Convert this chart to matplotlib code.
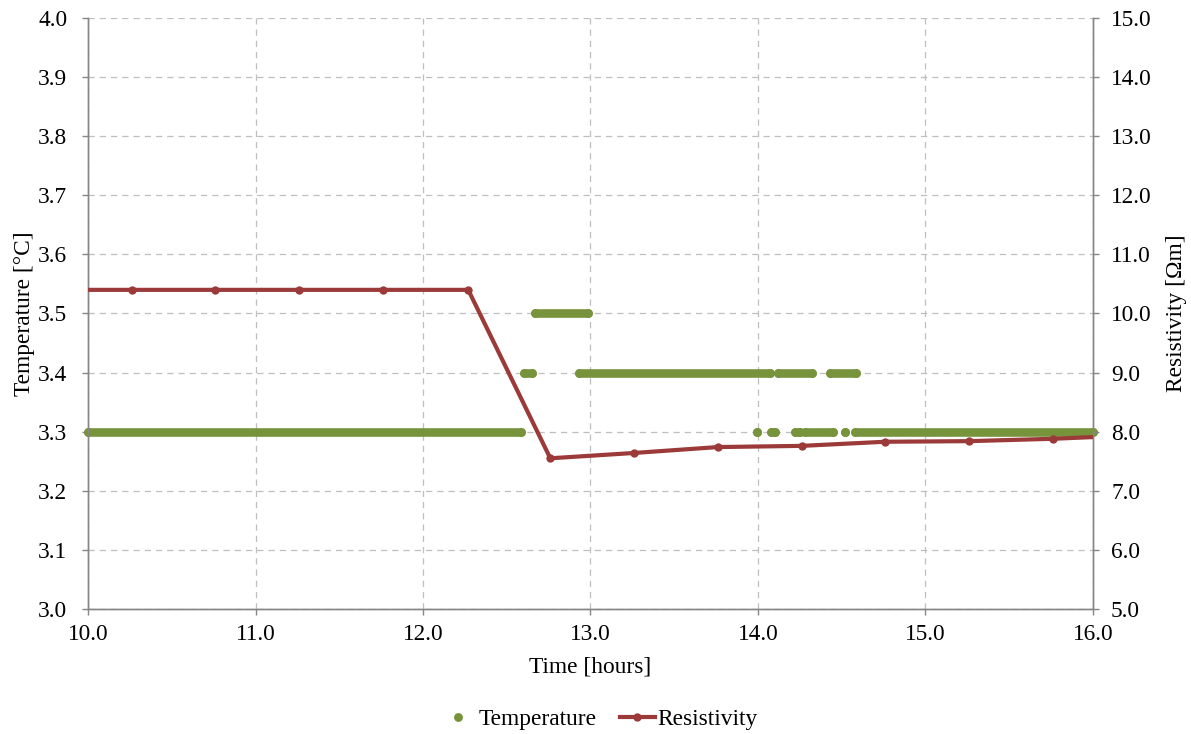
import matplotlib
matplotlib.use('Agg')
import matplotlib.pyplot as plt
from matplotlib.lines import Line2D
from matplotlib.ticker import FormatStrFormatter, MultipleLocator

plt.rcParams['font.family'] = ['Liberation Serif', 'DejaVu Serif']

# temperature readings, stored as runs of constant value (start hour, end hour, degC)
temp_start = [10.00, 12.60, 12.93, 14.12, 14.43, 12.67,
              13.995, 14.08, 14.22, 14.28, 14.52, 14.58]
temp_end = [12.585, 12.65, 14.07, 14.32, 14.585, 12.985,
            13.995, 14.10, 14.25, 14.45, 14.52, 16.00]
temp_value = [3.3, 3.4, 3.4, 3.4, 3.4, 3.5,
              3.3, 3.3, 3.3, 3.3, 3.3, 3.3]

# resistivity readings (every half hour)
res_time = [9.76, 10.26, 10.76, 11.26, 11.76, 12.27, 12.76, 13.26,
            13.76, 14.26, 14.76, 15.26, 15.76, 16.26]
res_value = [10.40, 10.40, 10.40, 10.40, 10.40, 10.40, 7.55, 7.64,
             7.74, 7.76, 7.83, 7.84, 7.88, 7.94]

GREEN = '#77933C'
RED = '#9B3A38'
GRID = '#BFBFBF'
SPINE = '#868686'
FS = 16.8


def main():
    fig = plt.figure(figsize=(11.91, 7.34), dpi=100)
    ax = fig.add_axes([0.0739, 0.1703, 0.8438, 0.8052])
    ax2 = ax.twinx()

    # temperature: each run drawn as a thick line capped with dots
    for s, e, v in zip(temp_start, temp_end, temp_value):
        ax.plot([s, e], [v, v], '-o', color=GREEN, lw=6.2, ms=6.4,
                markeredgewidth=0, solid_capstyle='round', clip_on=False, zorder=3)

    ax2.plot(res_time, res_value, '-o', color=RED, lw=3.0, ms=6.0,
             markeredgewidth=0, zorder=4)

    ax.set_xlim(10, 16)
    ax.set_ylim(3.0, 4.0)
    ax2.set_ylim(5.0, 15.0)
    ax.xaxis.set_major_locator(MultipleLocator(1.0))
    ax.yaxis.set_major_locator(MultipleLocator(0.1))
    ax2.yaxis.set_major_locator(MultipleLocator(1.0))
    ax.xaxis.set_major_formatter(FormatStrFormatter('%.1f'))
    ax.yaxis.set_major_formatter(FormatStrFormatter('%.1f'))
    ax2.yaxis.set_major_formatter(FormatStrFormatter('%.1f'))

    ax.grid(True, color=GRID, linestyle=(0, (5, 4)), linewidth=0.9)
    ax.set_axisbelow(True)

    for a in (ax, ax2):
        a.spines['top'].set_visible(False)
        for sp in ('left', 'right', 'bottom'):
            a.spines[sp].set_color(SPINE)
            a.spines[sp].set_linewidth(1.0)
        a.tick_params(axis='both', direction='out', length=4, width=1.0,
                      color=SPINE, labelsize=FS, labelcolor='black', pad=5)
    ax.tick_params(axis='x', pad=7)
    ax.tick_params(axis='y', pad=11)
    ax2.tick_params(axis='y', pad=9)

    ax.set_xlabel('Time [hours]', fontsize=FS, va='center')
    ax.set_ylabel('Temperature [°C]', fontsize=FS, va='center')
    ax2.set_ylabel('Resistivity [Ωm]', fontsize=FS, va='center')
    ax.xaxis.set_label_coords(0.5, -0.098)
    ax.yaxis.set_label_coords(-0.063, 0.5)
    ax2.yaxis.set_label_coords(1.083, 0.5)

    handles = [Line2D([], [], color=GREEN, marker='o', linestyle='None', ms=6.4,
                      markeredgewidth=0),
               Line2D([], [], color=RED, marker='o', lw=3.0, ms=6.0,
                      markeredgewidth=0)]
    fig.legend(handles, ['Temperature', 'Resistivity'], loc='center',
               bbox_to_anchor=(0.503, 0.02), ncol=2, frameon=False, fontsize=FS,
               handlelength=1.5, handletextpad=0.1, columnspacing=1.0)

    fig.savefig('out.png', dpi=100)


if __name__ == '__main__':
    main()
